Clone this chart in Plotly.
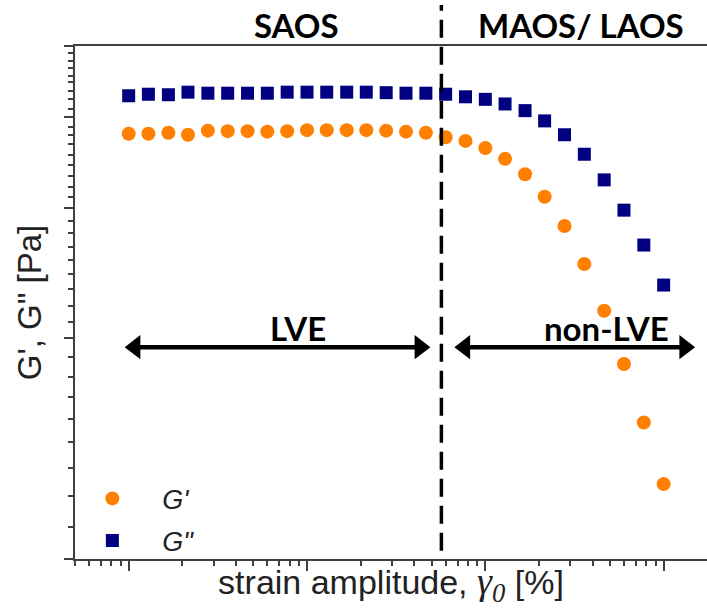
import numpy as np
import plotly.graph_objects as go

# ---------------- data ----------------
strain = [0.01, 0.0129, 0.0167, 0.0215, 0.0278, 0.0359, 0.0464, 0.0599, 0.0774,
          0.1, 0.129, 0.167, 0.215, 0.278, 0.359, 0.464, 0.599, 0.774,
          1.0, 1.29, 1.67, 2.15, 2.78, 3.59, 4.64, 5.99, 7.74, 10.0]
g_storage = [82.9, 82.9, 83.1, 82.7, 83.5, 83.4, 83.4, 83.3, 83.4, 83.6, 83.6, 83.6, 83.6, 83.5,
             83.3, 83.1, 82.2, 81.5, 80.1, 78.0, 75.0, 70.6, 64.9, 57.5, 48.4, 38.0, 26.6, 14.6]
g_loss = [90.3, 90.6, 90.5, 91.0, 90.8, 90.8, 90.8, 90.8, 91.0, 91.0, 91.0, 91.0, 91.0, 90.9,
          90.8, 90.8, 90.6, 90.1, 89.6, 88.7, 87.4, 85.4, 82.7, 78.9, 73.9, 68.0, 61.2, 53.4]

x_major_ticks = [0.01, 0.1, 1, 10]
x_minor_ticks = [0.005, 0.006, 0.007, 0.008, 0.009,
                 0.02, 0.03, 0.04, 0.05, 0.06, 0.07, 0.08, 0.09,
                 0.2, 0.3, 0.4, 0.5, 0.6, 0.7, 0.8, 0.9,
                 2, 3, 4, 5, 6, 7, 8, 9]
y_major_ticks = [0, 43.0, 68.4, 86.2, 100]
y_minor_ticks = [6.3, 12.3, 17.7, 22.8, 27.3, 31.6, 35.5, 39.3,
                 46.2, 49.4, 52.6, 55.6, 58.2, 60.9, 63.6, 65.9,
                 70.5, 72.6, 74.7, 76.8, 78.8, 80.9, 82.7, 84.3,
                 87.8, 89.7, 91.2, 92.9, 94.2, 95.8, 97.1, 98.7]

x_range = [0.005, 17.5]
y_range = [0, 100]
boundary_strain = 0.567          # SAOS | MAOS/LAOS border
lve_arrow = [0.01087, 0.4296]
nonlve_arrow = [0.7676, 13.11]
arrow_level = 41.3

ORANGE = "#FF8000"
NAVY = "#000080"
AXIS = "#404040"

fig = go.Figure()
fig.add_trace(go.Scatter(
    x=strain, y=g_storage, mode="markers", name="<i>G'</i>", legendgroup="a",
    marker=dict(symbol="circle", size=14, color=ORANGE)))
fig.add_trace(go.Scatter(
    x=strain, y=g_loss, mode="markers", name='<i>G"</i>', legendgroup="b",
    marker=dict(symbol="square", size=13, color=NAVY)))

# double-headed arrows (LVE / non-LVE regions)
for xs in (lve_arrow, nonlve_arrow):
    fig.add_trace(go.Scatter(
        x=xs, y=[arrow_level, arrow_level], mode="lines+markers", showlegend=False,
        hoverinfo="skip", line=dict(color="black", width=4.5),
        marker=dict(symbol=["triangle-left", "triangle-right"], size=21, color="black")))

# dashed boundary
fig.add_shape(type="line", xref="x", yref="paper", x0=boundary_strain, x1=boundary_strain,
              y0=0.016, y1=1.08, line=dict(color="black", width=3.5, dash="18px,9px"),
              layer="above")

lx = np.log10
bold = dict(family="Lato", size=33, color="black")
fig.add_annotation(x=lx(0.0885), y=45.0, xref="x", yref="y", text="<b>LVE</b>",
                   showarrow=False, font=bold, yanchor="middle")
fig.add_annotation(x=lx(4.76), y=45.0, xref="x", yref="y", text="<b>non-LVE</b>",
                   showarrow=False, font=bold, yanchor="middle")
fig.add_annotation(x=lx(0.087), y=1.04, xref="x", yref="paper", text="<b>SAOS</b>",
                   showarrow=False, font=bold, xanchor="center", yanchor="middle")
fig.add_annotation(x=lx(3.45), y=1.04, xref="x", yref="paper", text="<b>MAOS/ LAOS</b>",
                   showarrow=False, font=bold, xanchor="center", yanchor="middle")

fig.update_layout(
    width=707, height=608,
    margin=dict(l=75, r=0, t=46, b=49),
    paper_bgcolor="white", plot_bgcolor="white",
    showlegend=True,
    legend=dict(x=-0.02, y=0.165, xanchor="left", yanchor="top",
                font=dict(family="Liberation Sans", size=27, color="#222"),
                itemwidth=90, tracegroupgap=4, traceorder="grouped",
                bgcolor="rgba(0,0,0,0)"),
    xaxis=dict(type="log", range=[lx(x_range[0]), lx(x_range[1])],
               showline=True, linecolor=AXIS, linewidth=2, mirror=True,
               showgrid=False, zeroline=False,
               tickmode="array", tickvals=x_major_ticks, showticklabels=False,
               ticks="outside", ticklen=10, tickwidth=1.5, tickcolor=AXIS,
               minor=dict(tickmode="array", tickvals=x_minor_ticks, ticks="outside",
                          ticklen=5, tickwidth=1.5, tickcolor=AXIS, showgrid=False),
               title=dict(text='strain amplitude, <span style="font-family:Liberation Serif;font-size:38px"><i>γ<sub>0</sub></i></span> [%]',
                          font=dict(family="Liberation Sans", size=34, color="#222"),
                          standoff=8)),
    yaxis=dict(range=y_range, showline=True, linecolor=AXIS, linewidth=2, mirror=False,
               showgrid=False, zeroline=False,
               tickmode="array", tickvals=y_major_ticks, showticklabels=False,
               ticks="outside", ticklen=9, tickwidth=1.5, tickcolor=AXIS,
               minor=dict(tickmode="array", tickvals=y_minor_ticks, ticks="outside",
                          ticklen=5, tickwidth=1.5, tickcolor=AXIS, showgrid=False),
               title=dict(text='G\', G" [Pa]',
                          font=dict(family="Liberation Sans", size=33, color="#222"),
                          standoff=12)),
)

fig.write_html("out.html")
